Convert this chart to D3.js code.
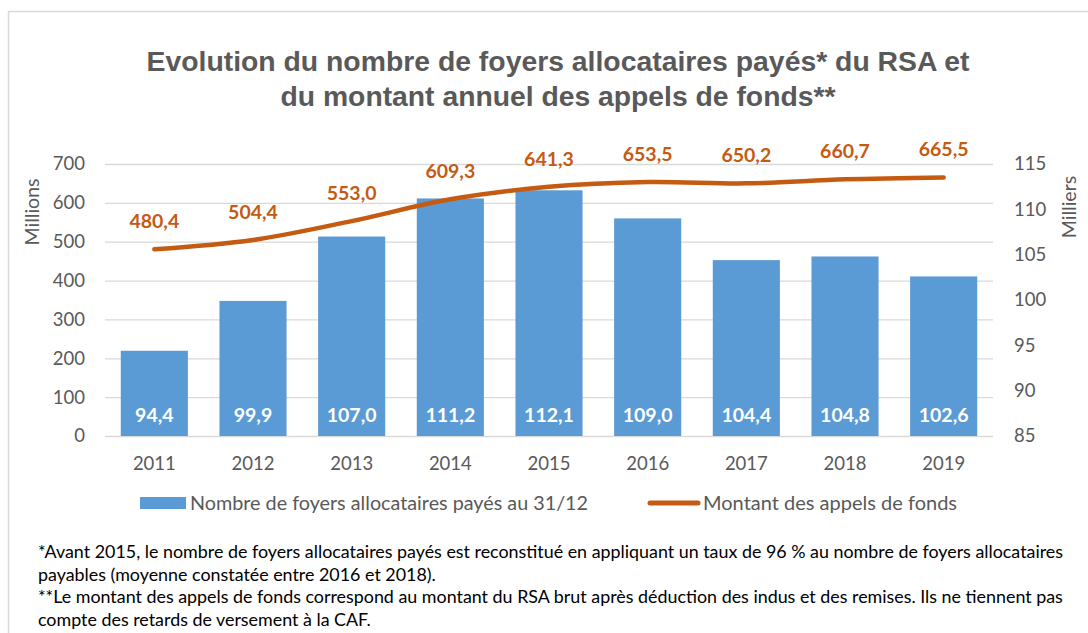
<!DOCTYPE html>
<html><head><meta charset="utf-8">
<script src="https://cdn.jsdelivr.net/npm/d3@7"></script>
<style>body{margin:0;background:#fff;}svg{display:block;}</style>
</head><body>
<svg id="c" width="1088" height="633"></svg>
<script>
const years = ["2011","2012","2013","2014","2015","2016","2017","2018","2019"];
const foyers = [94.4, 99.9, 107.0, 111.2, 112.1, 109.0, 104.4, 104.8, 102.6];
const montants = [480.4, 504.4, 553.0, 609.3, 641.3, 653.5, 650.2, 660.7, 665.5];
const leftTicks = [0,100,200,300,400,500,600,700];
const rightTicks = [85,90,95,100,105,110,115];
const titleLines = ["Evolution du nombre de foyers allocataires payés* du RSA et","du montant annuel des appels de fonds**"];
const legendLabels = ["Nombre de foyers allocataires payés au 31/12","Montant des appels de fonds"];
const footnotes = [
 "*Avant 2015, le nombre de foyers allocataires payés est reconstitué en appliquant un taux de 96 % au nombre de foyers allocataires",
 "payables (moyenne constatée entre 2016 et 2018).",
 "**Le  montant des appels de fonds correspond au montant du RSA brut après déduction des indus et des remises. Ils ne tiennent pas",
 "compte des retards de versement à la CAF."
];

const BLUE = "#5B9BD5", ORANGE = "#C55A11", GREY = "#595959", GRID = "#D9D9D9";
const CAL = "Lato, 'Open Sans', sans-serif";
const fmt = v => d3.format(".1f")(v).replace(".", ",");

const svg = d3.select("#c");
// frame
svg.append("rect").attr("x",8.5).attr("y",11.5).attr("width",1100).attr("height",640)
  .attr("fill","#fff").attr("stroke",GRID).attr("stroke-width",1.5);

const L = 105, R = 993, T = 164, B = 436;
const x = d3.scaleBand().domain(years).range([L,R]).paddingInner(0.32).paddingOuter(0.16);
const yL = d3.scaleLinear().domain([0,700]).range([B,T]);
const yR = d3.scaleLinear().domain([85,115]).range([B,T]);

// title
const titleW = [823, 555];
svg.append("g").selectAll("text").data(titleLines).join("text")
  .attr("x",558).attr("y",(d,i)=>71+i*34.5).attr("text-anchor","middle")
  .attr("font-family","'Liberation Sans', Arial, sans-serif").attr("font-weight","bold")
  .attr("font-size",27.5).attr("fill",GREY)
  .attr("textLength",(d,i)=>titleW[i]).attr("lengthAdjust","spacingAndGlyphs").text(d=>d);

// gridlines
svg.append("g").attr("transform",`translate(${L},0)`)
  .call(d3.axisLeft(yL).tickValues(leftTicks).tickSize(-(R-L)).tickFormat(""))
  .call(g=>g.select(".domain").remove())
  .call(g=>g.selectAll("line").attr("stroke",GRID).attr("stroke-width",1.3));

// left axis labels
svg.append("g").attr("transform",`translate(${L},0)`)
  .call(d3.axisLeft(yL).tickValues(leftTicks).tickSize(0).tickPadding(20))
  .call(g=>g.select(".domain").remove())
  .call(g=>g.selectAll("text").attr("font-family",CAL).attr("font-size",18.5).attr("fill",GREY));
// right axis labels
svg.append("g").attr("transform",`translate(${R},0)`)
  .call(d3.axisRight(yR).tickValues(rightTicks).tickSize(0).tickPadding(21))
  .call(g=>g.select(".domain").remove())
  .call(g=>g.selectAll("text").attr("font-family",CAL).attr("font-size",18.5).attr("fill",GREY));
// bottom axis labels
svg.append("g").attr("transform",`translate(0,${B})`)
  .call(d3.axisBottom(x).tickSize(0).tickPadding(21))
  .call(g=>g.select(".domain").remove())
  .call(g=>g.selectAll("text").attr("font-family",CAL).attr("font-size",18.5).attr("fill",GREY));

// axis titles
svg.append("text").attr("transform","translate(39,212) rotate(-90)").attr("text-anchor","middle")
  .attr("font-family",CAL).attr("font-size",19.5).attr("fill",GREY).text("Millions");
svg.append("text").attr("transform","translate(1076,207) rotate(-90)").attr("text-anchor","middle")
  .attr("font-family",CAL).attr("font-size",19.5).attr("fill",GREY).text("Milliers");

// bars
svg.append("g").selectAll("rect").data(years).join("rect")
  .attr("x",d=>x(d)).attr("width",x.bandwidth())
  .attr("y",(d,i)=>yR(foyers[i])).attr("height",(d,i)=>yR(85)-yR(foyers[i]))
  .attr("fill",BLUE);
svg.append("g").selectAll("text").data(years).join("text")
  .attr("x",d=>x(d)+x.bandwidth()/2).attr("y",422).attr("text-anchor","middle")
  .attr("font-family",CAL).attr("font-weight","bold").attr("font-size",19.5).attr("fill","#fff")
  .text((d,i)=>fmt(foyers[i]));

// line
const line = d3.line().x((d,i)=>x(years[i])+x.bandwidth()/2).y(d=>yL(d)).curve(d3.curveCatmullRom.alpha(0.5));
svg.append("path").datum(montants).attr("d",line).attr("fill","none")
  .attr("stroke",ORANGE).attr("stroke-width",4.5).attr("stroke-linecap","round");
svg.append("g").selectAll("text").data(montants).join("text")
  .attr("x",(d,i)=>x(years[i])+x.bandwidth()/2).attr("y",d=>yL(d)-21).attr("text-anchor","middle")
  .attr("font-family",CAL).attr("font-weight","bold").attr("font-size",19.5).attr("fill",ORANGE)
  .text(d=>fmt(d));

// legend
svg.append("rect").attr("x",140).attr("y",497).attr("width",46).attr("height",12).attr("fill",BLUE);
svg.append("text").attr("x",190).attr("y",510).attr("font-family",CAL).attr("font-size",18.5)
  .attr("fill",GREY).attr("textLength",398).attr("lengthAdjust","spacingAndGlyphs").text(legendLabels[0]);
svg.append("line").attr("x1",650).attr("x2",698).attr("y1",503).attr("y2",503)
  .attr("stroke",ORANGE).attr("stroke-width",5).attr("stroke-linecap","round");
svg.append("text").attr("x",703).attr("y",510).attr("font-family",CAL).attr("font-size",18.5)
  .attr("fill",GREY).attr("textLength",254).attr("lengthAdjust","spacingAndGlyphs").text(legendLabels[1]);

// footnotes
const fn = svg.append("g").selectAll("text").data(footnotes).join("text")
  .attr("x",38).attr("y",(d,i)=>558+i*22.5)
  .attr("font-family",CAL).attr("font-size",16.5).attr("fill","#000").text(d=>d);
const nat = fn.nodes().map(n=>n.getComputedTextLength());
const k = 1025/nat[0];
fn.attr("textLength",(d,i)=>nat[i]*k).attr("lengthAdjust","spacingAndGlyphs");
</script>
</body></html>
